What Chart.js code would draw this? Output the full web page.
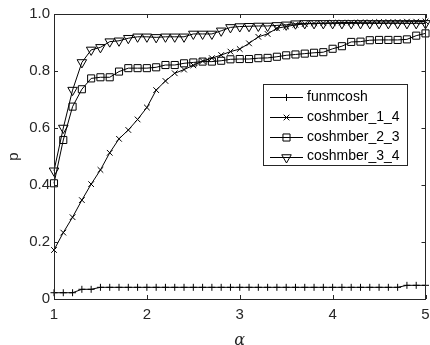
<!DOCTYPE html>
<html>
<head>
<meta charset="utf-8">
<script src="https://cdn.jsdelivr.net/npm/chart.js@4.4.1/dist/chart.umd.min.js"></script>
<style>
html,body{margin:0;padding:0;overflow:hidden;background:#fff;width:430px;height:345px;}
#wrap{position:absolute;left:0;top:0;width:432px;height:352px;}
</style>
</head>
<body>
<div id="wrap"><canvas id="c" width="432" height="352"></canvas></div>
<script>
const alphas = [1.0,1.1,1.2,1.3,1.4,1.5,1.6,1.7,1.8,1.9,2.0,2.1,2.2,2.3,2.4,2.5,2.6,2.7,2.8,2.9,3.0,3.1,3.2,3.3,3.4,3.5,3.6,3.7,3.8,3.9,4.0,4.1,4.2,4.3,4.4,4.5,4.6,4.7,4.8,4.9,5.0];
const funmcosh = [0.022,0.022,0.022,0.034,0.034,0.041,0.041,0.041,0.041,0.041,0.041,0.041,0.041,0.041,0.041,0.041,0.041,0.041,0.041,0.041,0.041,0.041,0.041,0.041,0.041,0.041,0.041,0.041,0.041,0.041,0.041,0.041,0.041,0.041,0.041,0.041,0.041,0.041,0.048,0.048,0.048];
const coshmber_1_4 = [0.172,0.233,0.287,0.347,0.403,0.453,0.513,0.562,0.593,0.630,0.672,0.733,0.765,0.792,0.805,0.820,0.835,0.845,0.856,0.868,0.877,0.897,0.920,0.930,0.950,0.956,0.962,0.965,0.967,0.968,0.969,0.970,0.970,0.971,0.971,0.972,0.972,0.972,0.973,0.973,0.974];
const coshmber_2_3 = [0.406,0.558,0.675,0.736,0.774,0.778,0.778,0.798,0.810,0.810,0.810,0.813,0.821,0.821,0.827,0.830,0.833,0.833,0.836,0.841,0.842,0.842,0.845,0.846,0.850,0.855,0.858,0.861,0.864,0.866,0.878,0.887,0.902,0.903,0.908,0.909,0.909,0.909,0.911,0.924,0.932];
const coshmber_3_4 = [0.450,0.600,0.733,0.830,0.874,0.883,0.903,0.906,0.915,0.920,0.920,0.918,0.920,0.920,0.920,0.930,0.930,0.930,0.941,0.953,0.956,0.957,0.958,0.958,0.960,0.962,0.966,0.967,0.967,0.967,0.967,0.967,0.967,0.967,0.967,0.967,0.967,0.967,0.967,0.967,0.967];
const xTicks = [1,2,3,4,5];
const yTicks = [0,0.2,0.4,0.6,0.8,1];
const seriesNames = ['funmcosh','coshmber_1_4','coshmber_2_3','coshmber_3_4'];

const AX = '#262626';
const FONT = "'Liberation Sans', Arial, Helvetica, sans-serif";

function pts(arr){ return alphas.map((a,i)=>({x:a,y:arr[i]})); }
function ds(label, arr, style, radius, rot){
  return {label, data:pts(arr), borderColor:'#000', borderWidth:1, backgroundColor:'rgba(0,0,0,0)',
    pointStyle:style, pointRadius:radius, pointHoverRadius:radius, pointBorderColor:'#000',
    pointBackgroundColor:'rgba(0,0,0,0)', pointBorderWidth:1, pointRotation:rot||0, tension:0, clip:false};
}

const framePlugin = {
  id:'frame',
  afterDatasetsDraw(chart){
    const {ctx, chartArea:a, scales} = chart;
    ctx.save();
    ctx.strokeStyle = AX; ctx.lineWidth = 1;
    ctx.strokeRect(Math.round(a.left)+0.5, Math.round(a.top)+0.5, Math.round(a.right-a.left)-1, Math.round(a.bottom-a.top));
    const L = 4;
    ctx.beginPath();
    xTicks.forEach(v=>{
      const px = Math.round(scales.x.getPixelForValue(v))+0.5;
      ctx.moveTo(px, a.bottom); ctx.lineTo(px, a.bottom-L);
      ctx.moveTo(px, a.top); ctx.lineTo(px, a.top+L);
    });
    yTicks.forEach(v=>{
      const py = Math.round(scales.y.getPixelForValue(v))+0.5;
      ctx.moveTo(a.left, py); ctx.lineTo(a.left+L, py);
      ctx.moveTo(a.right, py); ctx.lineTo(a.right-L, py);
    });
    ctx.stroke();
    ctx.restore();
  },
  afterDraw(chart){
    const ctx = chart.ctx;
    const bx = 263.5, by = 84.5, bw = 144, bh = 81;
    ctx.save();
    ctx.fillStyle = '#fff'; ctx.fillRect(bx,by,bw,bh);
    ctx.strokeStyle = AX; ctx.lineWidth = 1; ctx.strokeRect(bx,by,bw,bh);
    const rows = [97, 117, 137, 156.5];
    chart.data.datasets.forEach((d,i)=>{
      const y = rows[i];
      ctx.strokeStyle = '#000'; ctx.lineWidth = 1;
      ctx.beginPath(); ctx.moveTo(270, Math.round(y)+0.5); ctx.lineTo(303, Math.round(y)+0.5); ctx.stroke();
      ctx.fillStyle = 'rgba(0,0,0,0)';
      Chart.helpers.drawPoint(ctx, {pointStyle:d.pointStyle, radius:d.pointRadius, rotation:d.pointRotation, borderWidth:1}, 286.5, Math.round(y)+0.5);
      ctx.fillStyle = '#000';
      ctx.font = "14px " + FONT;
      ctx.textBaseline = 'middle'; ctx.textAlign = 'left';
      ctx.fillText(d.label, 307, y);
    });
    ctx.restore();
  }
};

new Chart(document.getElementById('c'), {
  type:'line',
  data:{ datasets:[
    ds(seriesNames[0], funmcosh, 'cross', 3.5),
    ds(seriesNames[1], coshmber_1_4, 'crossRot', 4),
    ds(seriesNames[2], coshmber_2_3, 'rect', 5),
    ds(seriesNames[3], coshmber_3_4, 'triangle', 5.5, 180)
  ]},
  options:{
    responsive:false, animation:false, devicePixelRatio:1,
    layout:{padding:{top:14,right:4,left:0,bottom:0}},
    plugins:{legend:{display:false}, tooltip:{enabled:false}},
    scales:{
      x:{type:'linear', min:1, max:5,
        afterBuildTicks(s){ s.ticks = xTicks.map(v=>({value:v})); },
        afterFit(s){ s.height = 53; s.paddingLeft = 0; s.paddingRight = 0; },
        grid:{display:false, drawTicks:false}, border:{display:false},
        ticks:{padding:7, color:AX, font:{family:FONT, size:15}, maxRotation:0},
        title:{display:true, text:'α', color:AX, font:{family:"'DejaVu Serif', 'Liberation Serif', serif", size:16, style:'italic'}, padding:{top:0,bottom:2}}
      },
      y:{type:'linear', min:0, max:1,
        afterBuildTicks(s){ s.ticks = yTicks.map(v=>({value:v})); },
        afterFit(s){ s.width = 54; s.paddingTop = 0; s.paddingBottom = 0; },
        grid:{display:false, drawTicks:false}, border:{display:false},
        ticks:{padding:4, color:AX, font:{family:FONT, size:15}},
        title:{display:true, text:'p', color:AX, font:{family:FONT, size:15}, padding:{top:5,bottom:0}}
      }
    }
  },
  plugins:[framePlugin]
});
</script>
</body>
</html>
